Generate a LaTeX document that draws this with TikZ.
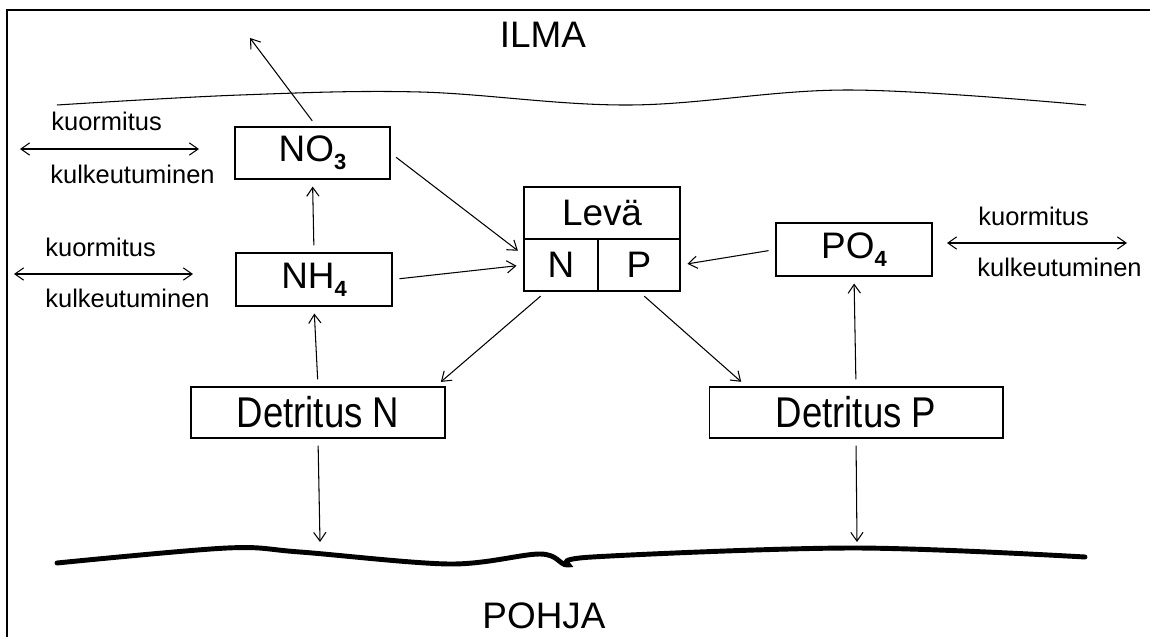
\documentclass[tikz,border=0pt]{standalone}
\usepackage{fontspec}
\setmainfont{Liberation Sans}
\newfontfamily\detfont[FakeStretch=0.85]{Liberation Sans}
\usetikzlibrary{calc,arrows.meta}
\newcommand{\alaindeksi}[1]{\raisebox{-4.5pt}{\fontsize{12.5}{14}\selectfont\bfseries #1}}

\tikzset{
	laatikko/.style={draw, line width=0.6pt, inner sep=0pt, font=\fontsize{21}{25}\selectfont},
	nuoli/.style={line width=0.6pt, -{Straight Barb[length=5pt,width=7pt]}, shorten <=4pt, shorten >=4pt},
	kaksinuoli/.style={line width=0.6pt, {Straight Barb[length=5pt,width=7pt]}-{Straight Barb[length=5pt,width=7pt]}},
	selite/.style={anchor=west, inner sep=0pt, font=\fontsize{14.5}{17}\selectfont},
	otsikko/.style={inner sep=0pt, font=\fontsize{21}{25}\selectfont},
}

\begin{document}
\begin{tikzpicture}[x=0.02cm, y=-0.02cm]
			%%%%% START %%%%%
			\useasboundingbox (0,0) rectangle (1150,636);
			
			% kehys
			\draw[line width=1.1pt] (7,650) -- (7,10) -- (1160,10);
			
			\node[otsikko] (ilma) at (543,35) {ILMA};
			\node[otsikko] (pohja) at (544,616) {POHJA};
			
			% pinnat
			\draw[line width=0.6pt] plot[smooth, tension=0.6] coordinates {(57,105) (240,95) (420,92) (629,105) (848,90) (1086,105)};
			\draw[line width=2.8pt, line cap=round] plot[smooth, tension=0.55] coordinates {(57,563) (227,548) (300,552) (450,564) (540,554) (567,565) (592,557) (854,548) (1085,557)};
			
			% laatikot
			\node[laatikko, minimum width=3.1cm, minimum height=1.04cm] (no3) at (312.5,153) {NO\alaindeksi{3}};
			\node[laatikko, minimum width=3.12cm, minimum height=1.06cm] (nh4) at (314,279.5) {NH\alaindeksi{4}};
			\node[laatikko, minimum width=3.12cm, minimum height=1.04cm] (leva) at (602,213) {Levä};
			\node[laatikko, minimum width=1.48cm, minimum height=1.04cm] (lvn) at (561,265) {N};
			\node[laatikko, minimum width=1.64cm, minimum height=1.04cm] (lvp) at (639,265) {P};
			\draw[line width=1.1pt] (leva.south west) -- (leva.south east);
			\node[laatikko, minimum width=3.12cm, minimum height=1.06cm] (po4) at (854,249.5) {PO\alaindeksi{4}};
			\node[laatikko, minimum width=5.08cm, minimum height=1.02cm, font=\detfont\fontsize{24.5}{28}\selectfont] (detn) at (318,412.5) {Detritus N};
			\node[laatikko, minimum width=5.88cm, minimum height=1.02cm, font=\detfont\fontsize{24.5}{28}\selectfont] (detp) at (856,412.5) {Detritus P};
			
			% selitteet
			\node[selite] (kuor1) at (51,121) {kuormitus};
			\node[selite] (kulk1) at (50,174) {kulkeutuminen};
			\node[selite] (kuor2) at (45,247) {kuormitus};
			\node[selite] (kulk2) at (45,298) {kulkeutuminen};
			\node[selite] (kuor3) at (978,216) {kuormitus};
			\node[selite] (kulk3) at (977,267) {kulkeutuminen};
			
			\coordinate (v1a) at (20,149);
			\coordinate (v1b) at (199,149);
			\coordinate (v2a) at (14,274);
			\coordinate (v2b) at (193,274);
			\coordinate (v3a) at (947,243);
			\coordinate (v3b) at (1127,243);
			\draw[kaksinuoli] (v1a) -- (v1b);
			\draw[kaksinuoli] (v2a) -- (v2b);
			\draw[kaksinuoli] (v3a) -- (v3b);
			
			% virtaukset
			\coordinate (ilmaan) at (250,38);
			\coordinate (pohjaan1) at (320,542);
			\coordinate (pohjaan2) at (857,542);
			\draw[nuoli, shorten >=0pt] ($(no3.north)+(4,0)$) -- (ilmaan);
			\draw[nuoli] (nh4.north) -- (no3.south);
			\draw[nuoli] (detn.north) -- (nh4.south);
			\draw[nuoli] (detp.north) -- (po4.south);
			\draw[nuoli, shorten >=0pt] (detn.south) -- (pohjaan1);
			\draw[nuoli, shorten >=0pt] (detp.south) -- (pohjaan2);
			\draw[nuoli] (no3.east) -- ($(lvn.west)+(0,-10)$);
			\draw[nuoli] (nh4.east) -- (lvn.west);
			\draw[nuoli] (po4.west) -- (lvp.east);
			\draw[nuoli] ($(lvn.south west)!0.3!(lvn.south east)$) -- ($(detn.north east)+(-10,0)$);
			\draw[nuoli] (lvp.south) -- ($(detp.north west)+(38,0)$);
			
			%%%%% END %%%%%
\end{tikzpicture}
\end{document}
